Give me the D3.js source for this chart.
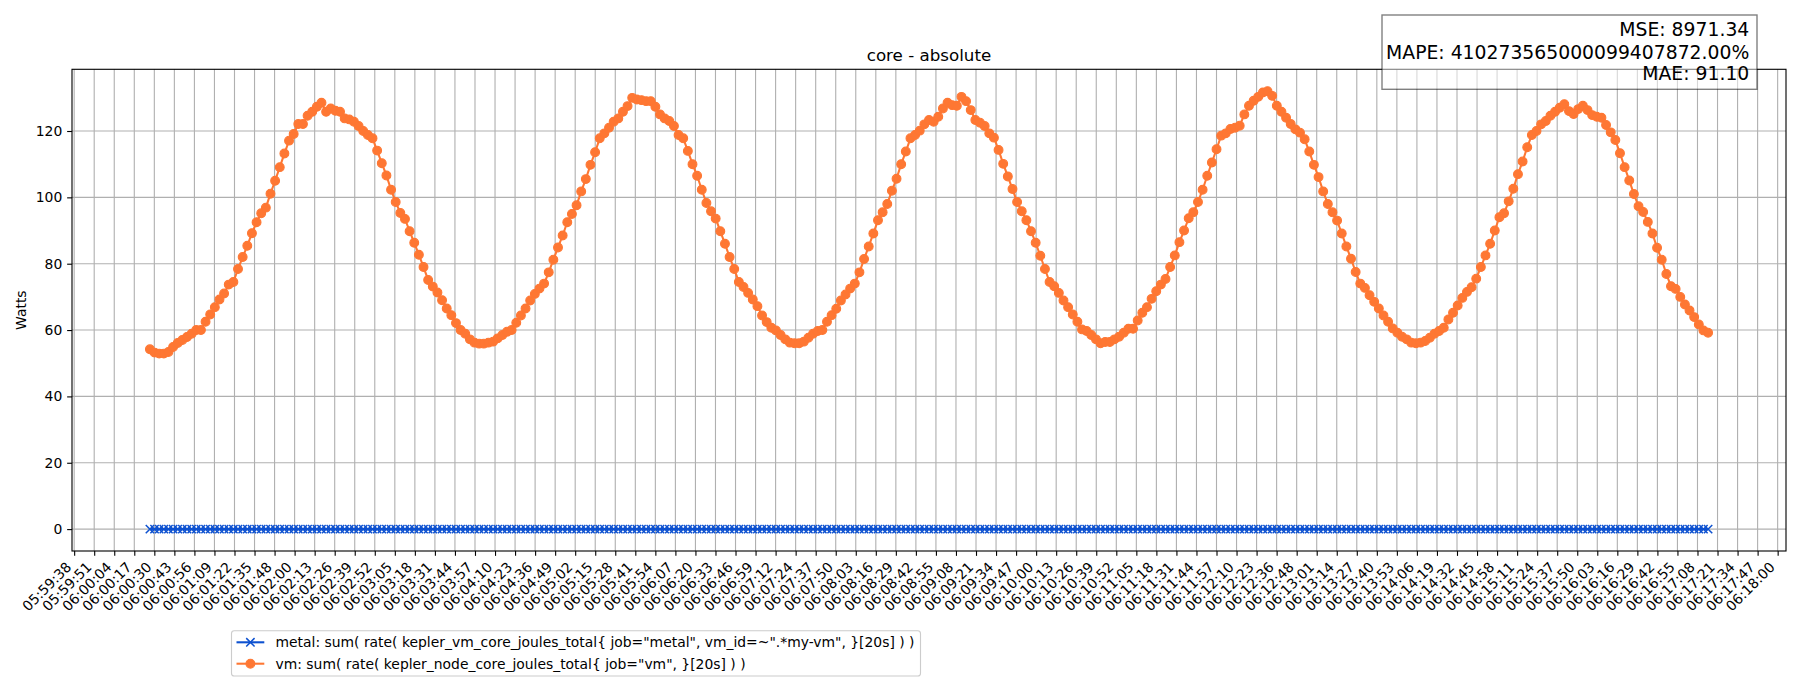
<!DOCTYPE html>
<html><head><meta charset="utf-8">
<script src="https://cdn.jsdelivr.net/npm/d3@7"></script>
<style>body{margin:0;background:#fff}svg{display:block;font-family:"DejaVu Sans",sans-serif}</style>
</head><body><svg id="chart" width="1800" height="700"></svg>
<script>
// ---------- data ----------
const chartTitle = "core - absolute";
const yAxisLabel = "Watts";
const sampleStart = "06:00:27";
const sampleStepSeconds = 3;

const vmLabel = 'vm: sum( rate( kepler_node_core_joules_total{ job="vm", }[20s] ) )';
const metalLabel = 'metal: sum( rate( kepler_vm_core_joules_total{ job="metal", vm_id=~".*my-vm", }[20s] ) )';

const vmValues = [
54.2,53.2,52.9,52.9,53.4,54.9,56.1,57.0,57.9,58.9,
60.0,60.0,62.5,64.7,66.9,69.2,71.0,73.7,74.5,78.4,
82.0,85.4,89.2,92.5,95.2,96.9,101.1,105.0,109.1,113.2,
117.1,119.1,122.1,122.1,124.6,125.8,127.3,128.5,125.8,126.8,
126.1,125.8,123.8,123.5,122.8,121.5,120.0,118.8,117.8,114.1,
110.3,106.6,102.3,98.6,95.3,93.5,89.8,86.3,82.7,79.0,
75.1,73.1,71.3,69.0,66.5,64.5,62.1,
60.0,58.9,57.2,56.2,55.9,55.9,56.2,56.5,57.5,58.5,
59.5,60.0,62.2,64.4,66.5,68.9,70.9,72.5,74.0,77.4,
81.2,84.9,88.5,92.5,95.0,97.6,101.8,105.5,109.8,113.6,
117.8,119.3,121.0,122.8,123.8,125.8,127.5,130.0,129.5,129.3,
129.0,129.0,127.3,125.0,123.8,123.0,121.5,118.8,117.8,114.0,
110.0,106.5,102.3,98.3,95.8,93.6,89.8,86.0,82.0,78.4,
74.5,73.0,71.2,69.2,67.2,64.4,62.4,60.7,
59.9,58.5,57.2,56.2,56.0,56.0,56.5,57.7,58.9,59.7,
60.0,62.5,64.5,66.4,68.9,70.7,72.5,74.0,77.4,81.4,
85.2,89.1,93.1,95.5,98.0,102.0,105.6,110.0,113.8,117.8,
118.8,120.1,122.0,123.3,122.8,124.3,126.8,128.5,127.8,127.6,
130.3,129.0,126.3,123.3,122.5,121.5,119.3,118.0,114.3,110.1,
106.3,102.5,98.6,95.8,93.1,89.8,86.3,82.4,78.4,74.5,
73.2,71.2,68.9,66.9,64.7,62.5,60.2,
59.7,58.5,57.2,56.0,56.4,56.4,57.2,58.0,59.2,60.4,
60.4,62.9,65.2,66.9,69.4,71.7,73.7,75.4,79.0,82.5,
86.5,90.0,93.7,95.5,98.6,102.3,106.5,110.5,114.5,118.6,
119.3,120.6,121.0,121.6,125.0,127.6,129.1,130.3,131.6,132.0,
130.6,127.6,125.8,124.0,122.1,120.5,119.5,117.5,113.8,109.8,
106.1,101.8,98.0,95.5,93.0,89.1,85.2,81.5,77.5,74.0,
72.7,70.5,68.5,66.5,64.4,62.5,60.5,
59.2,58.0,57.2,56.2,56.0,56.2,56.7,57.7,58.9,59.7,
60.7,63.2,65.2,67.4,69.7,71.5,72.9,75.5,79.0,82.5,
86.0,90.0,94.0,95.2,98.8,102.6,107.0,110.8,115.1,118.8,
120.0,122.0,123.0,124.6,125.8,127.0,128.1,126.0,125.1,126.6,
127.6,126.3,124.8,124.3,124.0,121.8,119.6,117.3,113.3,109.1,
105.1,101.0,97.3,95.6,92.6,89.1,84.8,81.2,76.9,73.2,
72.4,70.0,67.7,65.9,63.9,61.7,59.9,59.2
];

const metalValues = [
0,0,0,0,0,0,0,0,0,0,0,0,0,0,0,0,0,0,0,0,0,0,0,0,0,0,0,0,0,0,0,0,0,0,0,0,0,0,0,0,
0,0,0,0,0,0,0,0,0,0,0,0,0,0,0,0,0,0,0,0,0,0,0,0,0,0,0,0,0,0,0,0,0,0,0,0,0,0,0,0,
0,0,0,0,0,0,0,0,0,0,0,0,0,0,0,0,0,0,0,0,0,0,0,0,0,0,0,0,0,0,0,0,0,0,0,0,0,0,0,0,
0,0,0,0,0,0,0,0,0,0,0,0,0,0,0,0,0,0,0,0,0,0,0,0,0,0,0,0,0,0,0,0,0,0,0,0,0,0,0,0,
0,0,0,0,0,0,0,0,0,0,0,0,0,0,0,0,0,0,0,0,0,0,0,0,0,0,0,0,0,0,0,0,0,0,0,0,0,0,0,0,
0,0,0,0,0,0,0,0,0,0,0,0,0,0,0,0,0,0,0,0,0,0,0,0,0,0,0,0,0,0,0,0,0,0,0,0,0,0,0,0,
0,0,0,0,0,0,0,0,0,0,0,0,0,0,0,0,0,0,0,0,0,0,0,0,0,0,0,0,0,0,0,0,0,0,0,0,0,0,0,0,
0,0,0,0,0,0,0,0,0,0,0,0,0,0,0,0,0,0,0,0,0,0,0,0,0,0,0,0,0,0,0,0,0,0,0,0,0,0,0,0,
0,0,0,0,0,0,0,0,0,0,0,0,0,0,0,0,0
];

const xTickLabels = [
"05:59:38","05:59:51","06:00:04","06:00:17","06:00:30","06:00:43","06:00:56","06:01:09","06:01:22","06:01:35",
"06:01:48","06:02:00","06:02:13","06:02:26","06:02:39","06:02:52","06:03:05","06:03:18","06:03:31","06:03:44",
"06:03:57","06:04:10","06:04:23","06:04:36","06:04:49","06:05:02","06:05:15","06:05:28","06:05:41","06:05:54",
"06:06:07","06:06:20","06:06:33","06:06:46","06:06:59","06:07:12","06:07:24","06:07:37","06:07:50","06:08:03",
"06:08:16","06:08:29","06:08:42","06:08:55","06:09:08","06:09:21","06:09:34","06:09:47","06:10:00","06:10:13",
"06:10:26","06:10:39","06:10:52","06:11:05","06:11:18","06:11:31","06:11:44","06:11:57","06:12:10","06:12:23",
"06:12:36","06:12:48","06:13:01","06:13:14","06:13:27","06:13:40","06:13:53","06:14:06","06:14:19","06:14:32",
"06:14:45","06:14:58","06:15:11","06:15:24","06:15:37","06:15:50","06:16:03","06:16:16","06:16:29","06:16:42",
"06:16:55","06:17:08","06:17:21","06:17:34","06:17:47","06:18:00"
];
const yTickValues = [0, 20, 40, 60, 80, 100, 120];

const statsLines = ["MSE: 8971.34", "MAPE: 410273565000099407872.00%", "MAE: 91.10"];

// ---------- style / layout ----------
const colMetal = "#0d51d0";
const colVm = "#fe7733";
const plotL = 72, plotR = 1786, plotT = 69.3, plotB = 551;
const tickLen = 4.86, lw = 1.11;

const svg = d3.select("#chart");
const parseT = d3.timeParse("%H:%M:%S");
const tStart = parseT(sampleStart);
const times = vmValues.map((_, i) => new Date(+tStart + i * sampleStepSeconds * 1000));
const tFirst = times[0], tLast = times[times.length - 1];
const span = tLast - tFirst;

const x = d3.scaleTime()
  .domain([new Date(+tFirst - 0.05 * span), new Date(+tLast + 0.05 * span)])
  .range([plotL, plotR]);

const allV = vmValues.concat(metalValues);
const vMin = d3.min(allV), vMax = d3.max(allV);
const pad = 0.05 * (vMax - vMin);
const y = d3.scaleLinear().domain([vMin - pad, vMax + pad]).range([plotB, plotT]);

const tk0 = parseT(xTickLabels[0]), tk1 = parseT(xTickLabels[xTickLabels.length - 1]);
const tickTimes = xTickLabels.map((_, i) => new Date(+tk0 + i * (tk1 - tk0) / (xTickLabels.length - 1)));

// grid
const grid = svg.append("g");
grid.selectAll("line.vg").data(tickTimes).join("line")
  .attr("x1", d => x(d)).attr("x2", d => x(d)).attr("y1", plotT).attr("y2", plotB)
  .attr("stroke", "#b0b0b0").attr("stroke-width", lw);
grid.selectAll("line.hg").data(yTickValues).join("line")
  .attr("x1", plotL).attr("x2", plotR).attr("y1", d => y(d)).attr("y2", d => y(d))
  .attr("stroke", "#b0b0b0").attr("stroke-width", lw);

// series
const metalData = metalValues.map((v, i) => ({ t: times[i], v }));
const vmData = vmValues.map((v, i) => ({ t: times[i], v }));
const line = d3.line().x(d => x(d.t)).y(d => y(d.v));

const gm = svg.append("g");
gm.append("path").datum(metalData).attr("d", line).attr("fill", "none")
  .attr("stroke", colMetal).attr("stroke-width", 2.08);
const xs = 4.17;
const xPath = `M${-xs},${-xs}L${xs},${xs}M${-xs},${xs}L${xs},${-xs}`;
gm.selectAll("path.mk").data(metalData).join("path").attr("class", "mk")
  .attr("transform", d => `translate(${x(d.t)},${y(d.v)})`)
  .attr("d", xPath).attr("stroke", colMetal).attr("stroke-width", 1.5).attr("fill", "none");

const gv = svg.append("g");
gv.append("path").datum(vmData).attr("d", line).attr("fill", "none")
  .attr("stroke", colVm).attr("stroke-width", 2.08);
gv.selectAll("circle").data(vmData).join("circle")
  .attr("cx", d => x(d.t)).attr("cy", d => y(d.v)).attr("r", 4.4)
  .attr("fill", colVm).attr("stroke", colVm).attr("stroke-width", 1.1);

// axes
const xAxis = d3.axisBottom(x).tickValues(tickTimes).tickFormat((d, i) => xTickLabels[i])
  .tickSize(tickLen).tickSizeOuter(0);
const gx = svg.append("g").attr("transform", `translate(0,${plotB})`).call(xAxis);
gx.select(".domain").remove();
gx.selectAll(".tick line").attr("stroke", "#000").attr("stroke-width", lw);
gx.selectAll(".tick text").attr("x", 0).attr("y", 0).attr("dy", null)
  .attr("transform", "translate(-2.3,17) rotate(-45)")
  .attr("text-anchor", "end").attr("fill", "#000")
  .style("font-size", "13.9px").style("font-family", "DejaVu Sans");

const yAxis = d3.axisLeft(y).tickValues(yTickValues).tickFormat(d3.format("d"))
  .tickSize(tickLen).tickPadding(4.86).tickSizeOuter(0);
const gy = svg.append("g").attr("transform", `translate(${plotL},0)`).call(yAxis);
gy.select(".domain").remove();
gy.selectAll(".tick line").attr("stroke", "#000").attr("stroke-width", lw);
gy.selectAll(".tick text").attr("fill", "#000")
  .style("font-size", "13.9px").style("font-family", "DejaVu Sans");

// spines
svg.append("rect").attr("x", plotL).attr("y", plotT).attr("width", plotR - plotL).attr("height", plotB - plotT)
  .attr("fill", "none").attr("stroke", "#000").attr("stroke-width", lw);

// title & labels
svg.append("text").attr("x", (plotL + plotR) / 2).attr("y", 61).attr("text-anchor", "middle")
  .style("font-size", "16.7px").text(chartTitle);
svg.append("text").attr("transform", `translate(25.5,${(plotT + plotB) / 2}) rotate(-90)`)
  .attr("text-anchor", "middle").style("font-size", "13.9px").text(yAxisLabel);

// legend
const lg = svg.append("g");
lg.append("rect").attr("x", 231.5).attr("y", 630.7).attr("width", 689).attr("height", 45.3)
  .attr("rx", 2.8).attr("fill", "#fff").attr("fill-opacity", 0.8)
  .attr("stroke", "#cccccc").attr("stroke-width", lw);
const legendItems = [
  { label: metalLabel, color: colMetal, marker: "x", cy: 642.3 },
  { label: vmLabel, color: colVm, marker: "o", cy: 663.7 }
];
legendItems.forEach(it => {
  lg.append("line").attr("x1", 236.5).attr("x2", 264.3).attr("y1", it.cy).attr("y2", it.cy)
    .attr("stroke", it.color).attr("stroke-width", 2.08);
  if (it.marker === "x") {
    lg.append("path").attr("transform", `translate(250.4,${it.cy})`).attr("d", xPath)
      .attr("stroke", it.color).attr("stroke-width", 1.5).attr("fill", "none");
  } else {
    lg.append("circle").attr("cx", 250.4).attr("cy", it.cy).attr("r", 4.4)
      .attr("fill", it.color).attr("stroke", it.color).attr("stroke-width", 1.1);
  }
  lg.append("text").attr("x", 275.5).attr("y", it.cy + 5).style("font-size", "13.9px").text(it.label);
});

// stats box
const sb = svg.append("g");
sb.append("rect").attr("x", 1382).attr("y", 15).attr("width", 375).attr("height", 74.3)
  .attr("fill", "#fff").attr("fill-opacity", 0.5)
  .attr("stroke", "#000").attr("stroke-opacity", 0.5).attr("stroke-width", 1.39);
const statBaselines = [36.2, 58.5, 80.4];
statsLines.forEach((s, i) => {
  sb.append("text").attr("x", 1749.3).attr("y", statBaselines[i]).attr("text-anchor", "end")
    .style("font-size", "18.8px").text(s);
});
</script></body></html>
